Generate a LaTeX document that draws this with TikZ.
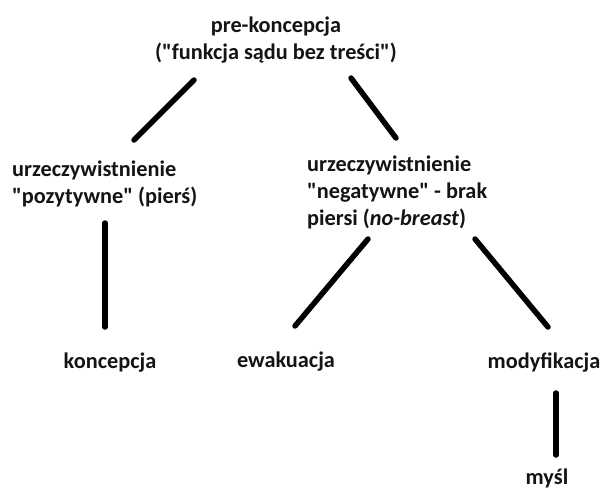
\documentclass[tikz,border=0pt]{standalone}
\usepackage{fontspec}
\setmainfont{Carlito}[Ligatures=TeXOff]
\begin{document}
\begin{tikzpicture}[x=1pt,y=-1pt]
\tikzset{
  lbl/.style={font=\bfseries\fontsize{22.3}{27}\selectfont, inner sep=0pt, text=black!92},
  conn/.style={line width=5.5pt, line cap=round, draw=black}
}
\fill[white] (0,0) rectangle (606,491);
\useasboundingbox (0,0) rectangle (606,491);
% nodes
\node[lbl, align=center] (pre) at (276,40) {pre-koncepcja\\("funkcja sądu bez treści")};
\node[lbl, align=left, anchor=west] (pos) at (12,184) {urzeczywistnienie\\"pozytywne" (pierś)};
\node[lbl, align=left, anchor=west] (neg) at (307,192) {urzeczywistnienie\\"negatywne" - brak\\piersi (\textit{no-breast})};
\node[lbl] (kon) at (110,363) {koncepcja};
\node[lbl] (ewa) at (286,362) {ewakuacja};
\node[lbl] (mod) at (544,363) {modyfikacja};
\node[lbl, anchor=base] (mys) at (547,484.5) {myśl};
% connector end points
\coordinate (preL) at (194,80);
\coordinate (posT) at (134,140);
\coordinate (preR) at (351,78);
\coordinate (negT) at (396,138);
\coordinate (posB) at (105,223);
\coordinate (konT) at (105,327);
\coordinate (negL) at (368,239);
\coordinate (ewaT) at (295,326);
\coordinate (negR) at (475,239);
\coordinate (modT) at (548,327);
\coordinate (modB) at (556,393);
\coordinate (mysT) at (556,455);
% connectors
\draw[conn] (preL) -- (posT);
\draw[conn] (preR) -- (negT);
\draw[conn] (posB) -- (konT);
\draw[conn] (negL) -- (ewaT);
\draw[conn] (negR) -- (modT);
\draw[conn] (modB) -- (mysT);
\end{tikzpicture}
\end{document}
